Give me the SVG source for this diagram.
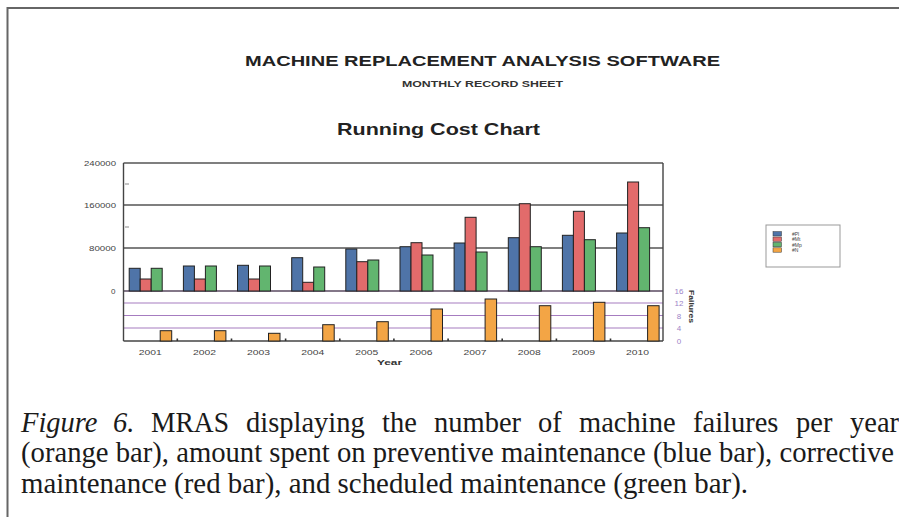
<svg xmlns="http://www.w3.org/2000/svg" width="899" height="517" viewBox="0 0 899 517">
<style>
.bar{stroke:#222;stroke-width:1}
.b{fill:#4f74a8}.r{fill:#e26b6b}.g{fill:#62b56f}.o{fill:#f3a545}
.grid{stroke:#555;stroke-width:1.4;fill:none}
.fl{stroke:#a67cc0;stroke-width:1.2;fill:none}
.ax{font-family:"Liberation Sans",Arial,sans-serif;font-size:8px;fill:#444}
.fx{font-family:"Liberation Sans",Arial,sans-serif;font-size:8px;fill:#9c84c8;text-anchor:middle}
.lg{font-family:"Liberation Sans",Arial,sans-serif;font-size:5px;fill:#444}
.cap{font-family:"Liberation Serif","Times New Roman",serif;font-size:28.5px;fill:#1a1a1a}
</style>
<rect x="0" y="0" width="899" height="517" fill="#fff"/>
<path d="M7.5,520 V8 H900" fill="none" stroke="#666" stroke-width="2"/>

<g id="titles">
<text x="245" y="66" font-family="Liberation Sans,Arial,sans-serif" font-weight="bold" font-size="15" fill="#222" textLength="475" lengthAdjust="spacingAndGlyphs">MACHINE REPLACEMENT ANALYSIS SOFTWARE</text>
<text x="402" y="86.7" font-family="Liberation Sans,Arial,sans-serif" font-weight="bold" font-size="8.5" fill="#333" textLength="161" lengthAdjust="spacingAndGlyphs">MONTHLY RECORD SHEET</text>
<text x="337" y="135" font-family="Liberation Sans,Arial,sans-serif" font-weight="bold" font-size="16.5" fill="#222" textLength="203" lengthAdjust="spacingAndGlyphs">Running Cost Chart</text>
</g>

<g id="axes">
<path class="grid" d="M123.5,163 H663 M123.5,205 H663 M123.5,248 H663"/>
<path d="M123.5,291 H663" stroke="#5a4a60" stroke-width="1.3"/>
<path class="fl" d="M123.5,303 H663 M123.5,315.5 H663 M123.5,328 H663"/>
<path d="M123.5,341 H663" stroke="#444" stroke-width="1.3"/>
<path d="M123.5,163 V341 M663,163 V341" stroke="#444" stroke-width="1.4"/>
<path d="M125,184 H129 M125,227 H129" stroke="#888" stroke-width="1"/>
<g fill="#333">
<rect x="176.5" y="338.5" width="1.6" height="2.5"/><rect x="230.7" y="338.5" width="1.6" height="2.5"/><rect x="284.8" y="338.5" width="1.6" height="2.5"/><rect x="339" y="338.5" width="1.6" height="2.5"/><rect x="393.1" y="338.5" width="1.6" height="2.5"/><rect x="447.3" y="338.5" width="1.6" height="2.5"/><rect x="501.4" y="338.5" width="1.6" height="2.5"/><rect x="555.6" y="338.5" width="1.6" height="2.5"/><rect x="609.7" y="338.5" width="1.6" height="2.5"/>
</g>
<text class="ax" x="84" y="166" textLength="32" lengthAdjust="spacingAndGlyphs">240000</text>
<text class="ax" x="84" y="208" textLength="32" lengthAdjust="spacingAndGlyphs">160000</text>
<text class="ax" x="89" y="251" textLength="27" lengthAdjust="spacingAndGlyphs">80000</text>
<text class="ax" x="111" y="294">0</text>
<g class="ax" text-anchor="middle">
<text x="150.2" y="355" textLength="23" lengthAdjust="spacingAndGlyphs">2001</text>
<text x="204.4" y="355" textLength="23" lengthAdjust="spacingAndGlyphs">2002</text>
<text x="258.5" y="355" textLength="23" lengthAdjust="spacingAndGlyphs">2003</text>
<text x="312.7" y="355" textLength="23" lengthAdjust="spacingAndGlyphs">2004</text>
<text x="366.8" y="355" textLength="23" lengthAdjust="spacingAndGlyphs">2005</text>
<text x="421" y="355" textLength="23" lengthAdjust="spacingAndGlyphs">2006</text>
<text x="475.1" y="355" textLength="23" lengthAdjust="spacingAndGlyphs">2007</text>
<text x="529.3" y="355" textLength="23" lengthAdjust="spacingAndGlyphs">2008</text>
<text x="583.4" y="355" textLength="23" lengthAdjust="spacingAndGlyphs">2009</text>
<text x="637.6" y="355" textLength="23" lengthAdjust="spacingAndGlyphs">2010</text>
</g>
<text x="377" y="364.5" font-family="Liberation Sans,Arial,sans-serif" font-weight="bold" font-size="8" fill="#333" textLength="25" lengthAdjust="spacingAndGlyphs">Year</text>
<text class="fx" x="679" y="294">16</text>
<text class="fx" x="679" y="306">12</text>
<text class="fx" x="679" y="318.5">8</text>
<text class="fx" x="679" y="331">4</text>
<text class="fx" x="679" y="344">0</text>
<text transform="translate(689,290) rotate(90)" font-family="Liberation Sans,Arial,sans-serif" font-weight="bold" font-size="8" fill="#333" textLength="33" lengthAdjust="spacingAndGlyphs">Failures</text>
</g>

<g id="series-Pl">
<rect class="bar b" x="129.2" y="268.3" width="11" height="22.7"/>
<rect class="bar b" x="183.4" y="266" width="11" height="25"/>
<rect class="bar b" x="237.5" y="265.3" width="11" height="25.7"/>
<rect class="bar b" x="291.7" y="257.7" width="11" height="33.3"/>
<rect class="bar b" x="345.8" y="249" width="11" height="42"/>
<rect class="bar b" x="400" y="246.7" width="11" height="44.3"/>
<rect class="bar b" x="454.1" y="243" width="11" height="48"/>
<rect class="bar b" x="508.3" y="237.7" width="11" height="53.3"/>
<rect class="bar b" x="562.4" y="235.3" width="11" height="55.7"/>
<rect class="bar b" x="616.6" y="233" width="11" height="58"/>
</g>
<g id="series-Mt">
<rect class="bar r" x="140.2" y="279" width="11" height="12"/>
<rect class="bar r" x="194.4" y="279" width="11" height="12"/>
<rect class="bar r" x="248.5" y="279" width="11" height="12"/>
<rect class="bar r" x="302.7" y="282.3" width="11" height="8.7"/>
<rect class="bar r" x="356.8" y="261.7" width="11" height="29.3"/>
<rect class="bar r" x="411" y="242.7" width="11" height="48.3"/>
<rect class="bar r" x="465.1" y="217.3" width="11" height="73.7"/>
<rect class="bar r" x="519.3" y="203.7" width="11" height="87.3"/>
<rect class="bar r" x="573.4" y="211.3" width="11" height="79.7"/>
<rect class="bar r" x="627.6" y="182" width="11" height="109"/>
</g>
<g id="series-Mp">
<rect class="bar g" x="151.2" y="268.3" width="11" height="22.7"/>
<rect class="bar g" x="205.4" y="266" width="11" height="25"/>
<rect class="bar g" x="259.5" y="266" width="11" height="25"/>
<rect class="bar g" x="313.7" y="267" width="11" height="24"/>
<rect class="bar g" x="367.8" y="260" width="11" height="31"/>
<rect class="bar g" x="422" y="255" width="11" height="36"/>
<rect class="bar g" x="476.1" y="252" width="11" height="39"/>
<rect class="bar g" x="530.3" y="246.7" width="11" height="44.3"/>
<rect class="bar g" x="584.4" y="239.7" width="11" height="51.3"/>
<rect class="bar g" x="638.6" y="227.7" width="11" height="63.3"/>
</g>
<g id="series-N">
<rect class="bar o" x="160.2" y="330.7" width="11.5" height="10.3"/>
<rect class="bar o" x="214.4" y="330.7" width="11.5" height="10.3"/>
<rect class="bar o" x="268.5" y="333.3" width="11.5" height="7.7"/>
<rect class="bar o" x="322.7" y="324.7" width="11.5" height="16.3"/>
<rect class="bar o" x="376.8" y="321.7" width="11.5" height="19.3"/>
<rect class="bar o" x="431" y="309" width="11.5" height="32"/>
<rect class="bar o" x="485.1" y="299" width="11.5" height="42"/>
<rect class="bar o" x="539.3" y="305.7" width="11.5" height="35.3"/>
<rect class="bar o" x="593.4" y="302.3" width="11.5" height="38.7"/>
<rect class="bar o" x="647.6" y="305.7" width="11.5" height="35.3"/>
</g>

<g id="legend">
<rect x="766" y="225" width="74" height="42" fill="#fff" stroke="#999" stroke-width="1"/>
<rect class="b" x="773" y="231.6" width="8.5" height="4.4" stroke="#333" stroke-width="0.5"/>
<rect class="r" x="773" y="237" width="8.5" height="4.4" stroke="#333" stroke-width="0.5"/>
<rect class="g" x="773" y="242.4" width="8.5" height="4.4" stroke="#333" stroke-width="0.5"/>
<rect class="o" x="773" y="247.8" width="8.5" height="4.4" stroke="#333" stroke-width="0.5"/>
<text class="lg" x="792" y="235.8">#Pl</text>
<text class="lg" x="792" y="241.2">#Mt</text>
<text class="lg" x="792" y="246.6">#Mp</text>
<text class="lg" x="792" y="252">#N</text>
</g>

<g id="caption">
<text class="cap" y="432"><tspan x="21" font-style="italic">Figure</tspan><tspan x="113" font-style="italic">6.</tspan></text>
<text class="cap" x="151" y="432" textLength="78" lengthAdjust="spacingAndGlyphs">MRAS</text>
<text class="cap" y="432"><tspan x="246">displaying</tspan><tspan x="382">the</tspan><tspan x="434">number</tspan><tspan x="538">of</tspan><tspan x="579">machine</tspan><tspan x="693">failures</tspan><tspan x="796">per</tspan><tspan x="850">year</tspan></text>
<text class="cap" x="21" y="462" textLength="873" lengthAdjust="spacingAndGlyphs">(orange bar), amount spent on preventive maintenance (blue bar), corrective</text>
<text class="cap" x="21" y="493" textLength="727" lengthAdjust="spacingAndGlyphs">maintenance (red bar), and scheduled maintenance (green bar).</text>
</g>
</svg>
